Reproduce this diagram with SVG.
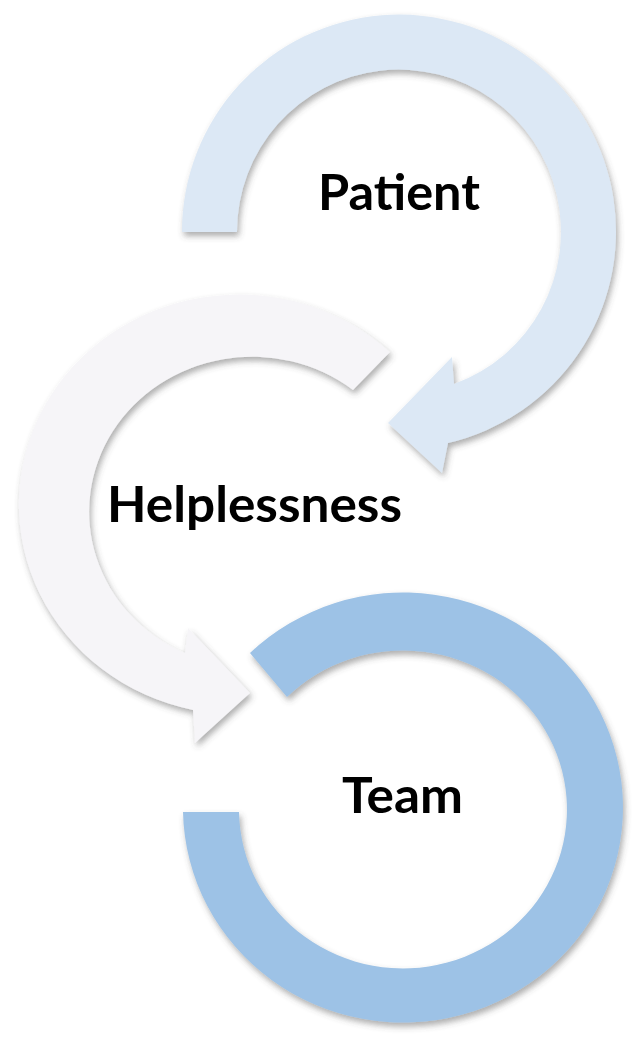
<svg xmlns="http://www.w3.org/2000/svg" width="643" height="1045" viewBox="0 0 643 1045">
  <defs>
    <filter id="shadow" x="-20%" y="-20%" width="140%" height="140%">
      <feDropShadow dx="2" dy="4" stdDeviation="3" flood-color="#4a4a4a" flood-opacity="0.45"/>
    </filter>
    <style>
      .arrow { filter: url(#shadow); stroke: none; }
      .patient { fill: #dce8f5; }
      .help { fill: #f6f5f8; }
      .team { fill: #9dc2e6; }
      .label { font-family: "Lato", "Liberation Sans", sans-serif; font-weight: bold; font-size: 49px; fill: #000; }
    </style>
  </defs>
  <rect width="643" height="1045" fill="#ffffff"/>
  <g id="connectors">
    <path id="arrow-patient" class="arrow patient" d="M 182 232 A 217 217 0 1 1 448 443 L 442 473 L 388 423 L 452 357 L 454 384 A 162 162 0 1 0 237 232 Z"/>
    <path id="arrow-helplessness" class="arrow help" d="M 390 352 A 220 210 0 1 0 193 710 L 195 743 L 250 693 L 188 628 L 185 653 A 163 155 0 1 1 353 390 Z"/>
  </g>
  <g id="node-team">
    <path class="arrow team" d="M 250 653 A 220 215 0 1 1 183 812 L 239 812 A 164 159 0 1 0 287 697 Z"/>
    <text class="label" x="342" y="813" textLength="121" lengthAdjust="spacingAndGlyphs">Team</text>
  </g>
  <g id="node-patient">
    <text class="label" x="318" y="210" textLength="162" lengthAdjust="spacingAndGlyphs">Patient</text>
  </g>
  <g id="node-helplessness">
    <text class="label" x="107" y="522" textLength="295" lengthAdjust="spacingAndGlyphs">Helplessness</text>
  </g>
</svg>
